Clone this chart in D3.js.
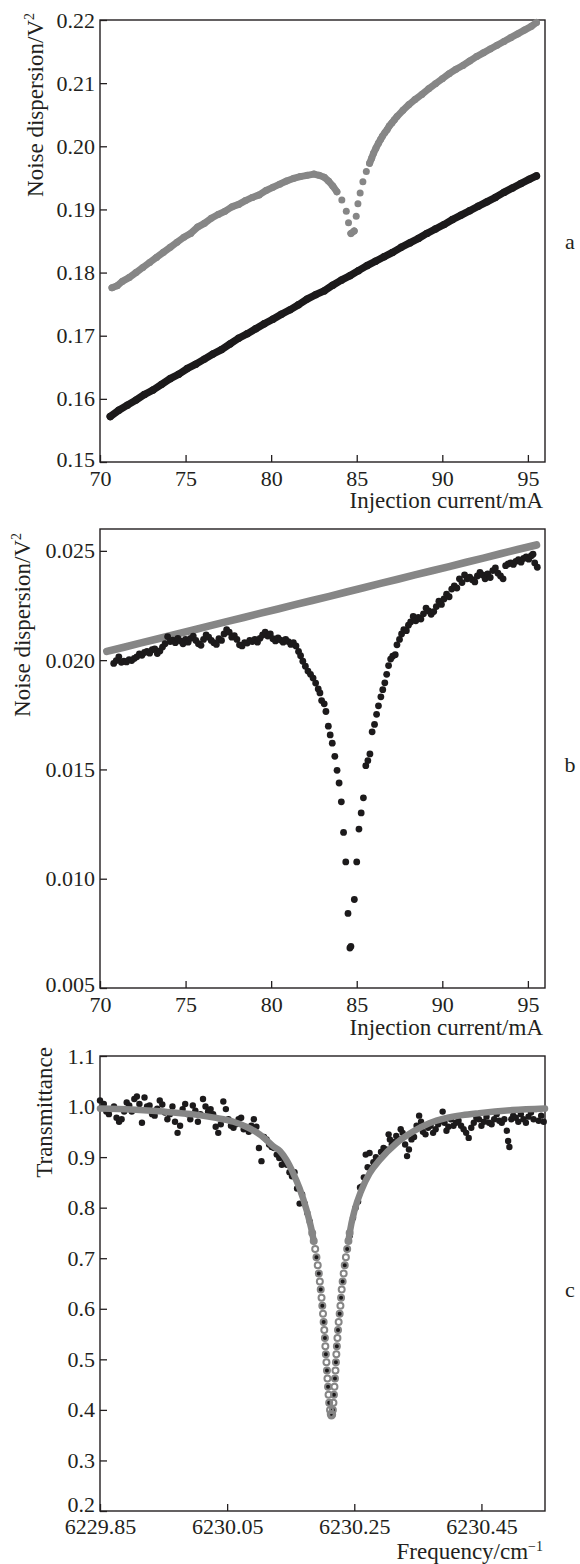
<!DOCTYPE html>
<html><head><meta charset="utf-8">
<script src="https://cdn.jsdelivr.net/npm/d3@7"></script>
<style>
body{margin:0;background:#fff}
svg text{font-family:"Liberation Serif","Times New Roman",serif;fill:#231f20}
</style>
</head><body>
<svg id="chart" width="580" height="1564"></svg>
<script>
// ---------------- DATA ----------------
// Panel a: noise dispersion (V^2) vs injection current (mA)
const aXTicks = [70, 75, 80, 85, 90, 95];
const aYTicks = [0.15, 0.16, 0.17, 0.18, 0.19, 0.20, 0.21, 0.22];
const aGray = [
 [70.7,0.1776],[71.0,0.1779],[71.3,0.1786],[71.7,0.1792],[72.1,0.1800],[72.5,0.1808],[72.9,0.1816],[73.3,0.1824],
 [73.7,0.1832],[74.1,0.1840],[74.5,0.1848],[74.9,0.1856],[75.3,0.1862],[75.7,0.1872],[76.1,0.1878],[76.5,0.1886],
 [76.9,0.1892],[77.3,0.1897],[77.7,0.1904],[78.1,0.1908],[78.5,0.1914],[78.9,0.1919],[79.3,0.1923],[79.7,0.1930],
 [80.1,0.1935],[80.5,0.1940],[80.9,0.1945],[81.3,0.1949],[81.7,0.1952],[82.1,0.1954],[82.5,0.1956],[82.8,0.1954],
 [83.1,0.1951],[83.35,0.1945],[83.6,0.1937],[83.84,0.1928],[84.13,0.1915],[84.39,0.1897],[84.52,0.1879],[84.66,0.1862],
 [84.85,0.1866],[84.97,0.1889],[85.07,0.1909],[85.2,0.1926],[85.36,0.1944],[85.56,0.1960],[85.75,0.1973],[85.87,0.1981],
 [85.98,0.1989],[86.12,0.1997],[86.27,0.2005],[86.4,0.2011],[86.5,0.2016],[86.65,0.2022],[86.77,0.2026],[86.9,0.2032],
 [87.05,0.2037],[87.2,0.2042],[87.35,0.2047],[87.7,0.2057],[88.05,0.2066],[88.4,0.2074],
 [88.8,0.2082],[89.2,0.2091],[89.6,0.2099],[90.0,0.2107],[90.4,0.2115],[90.8,0.2122],[91.2,0.2128],[91.6,0.2135],
 [92.0,0.2142],[92.4,0.2148],[92.8,0.2154],[93.2,0.2160],[93.6,0.2166],[94.0,0.2172],[94.4,0.2178],[94.8,0.2184],
 [95.2,0.2190],[95.5,0.2196]
];
const aBlack = [
 [70.6,0.1572],[71.1,0.1582],[71.6,0.1590],[72.1,0.1598],[72.6,0.1607],[73.1,0.1614],[73.6,0.1623],[74.1,0.1632],
 [74.6,0.1639],[75.1,0.1648],[75.6,0.1655],[76.1,0.1663],[76.6,0.1671],[77.1,0.1678],[77.6,0.1687],[78.1,0.1696],
 [78.6,0.1703],[79.1,0.1711],[79.6,0.1719],[80.1,0.1726],[80.6,0.1734],[81.1,0.1741],[81.6,0.1749],[82.1,0.1758],
 [82.6,0.1765],[83.1,0.1771],[83.6,0.1780],[84.1,0.1788],[84.6,0.1795],[85.1,0.1803],[85.6,0.1811],[86.1,0.1818],
 [86.6,0.1825],[87.1,0.1832],[87.6,0.1840],[88.1,0.1847],[88.6,0.1854],[89.1,0.1862],[89.6,0.1869],[90.1,0.1876],
 [90.6,0.1884],[91.1,0.1891],[91.6,0.1898],[92.1,0.1905],[92.6,0.1912],[93.1,0.1919],[93.6,0.1927],[94.1,0.1934],
 [94.6,0.1941],[95.1,0.1948],[95.5,0.1953]
];

// Panel b
const bXTicks = [70, 75, 80, 85, 90, 95];
const bYTicks = [0.005, 0.010, 0.015, 0.020, 0.025];
const bGray = [
 [70.4,0.02040],[71.4,0.02059],[72.4,0.02079],[73.4,0.02098],[74.4,0.02118],[75.4,0.02137],[76.4,0.02157],
 [77.4,0.02176],[78.4,0.02195],[79.4,0.02215],[80.4,0.02234],[81.4,0.02254],[82.4,0.02273],[83.4,0.02292],
 [84.4,0.02312],[85.4,0.02331],[86.4,0.02351],[87.4,0.02370],[88.4,0.02390],[89.4,0.02409],[90.4,0.02428],
 [91.4,0.02448],[92.4,0.02467],[93.4,0.02487],[94.4,0.02506],[95.5,0.02527]
];
const bBlack = [
 [70.8,0.01985],[70.95,0.01998],[71.1,0.02015],[71.25,0.01990],[71.4,0.01995],[71.55,0.01992],[71.7,0.02002],
 [71.85,0.01998],[72.0,0.02008],[72.15,0.02015],[72.3,0.02028],[72.45,0.02022],[72.6,0.02035],[72.75,0.02040],
 [72.9,0.02032],[73.05,0.02048],[73.2,0.02052],[73.35,0.02030],[73.5,0.02042],[73.65,0.02060],[73.8,0.02075],
 [73.95,0.02108],[74.1,0.02085],[74.25,0.02092],[74.4,0.02080],[74.55,0.02100],[74.7,0.02088],[74.85,0.02075],
 [75.0,0.02095],[75.15,0.02082],[75.3,0.02100],[75.45,0.02110],[75.6,0.02090],[75.75,0.02075],[75.9,0.02068],
 [76.05,0.02095],[76.2,0.02115],[76.35,0.02105],[76.5,0.02090],[76.65,0.02080],[76.8,0.02072],[76.95,0.02098],
 [77.1,0.02090],[77.25,0.02120],[77.4,0.02140],[77.55,0.02128],[77.7,0.02105],[77.85,0.02112],[78.0,0.02095],
 [78.15,0.02070],[78.3,0.02065],[78.45,0.02080],[78.6,0.02078],[78.75,0.02090],[78.9,0.02085],[79.05,0.02095],
 [79.2,0.02082],[79.35,0.02100],[79.5,0.02115],[79.65,0.02128],[79.8,0.02110],[79.95,0.02120],[80.1,0.02098],
 [80.25,0.02088],[80.4,0.02102],[80.55,0.02092],[80.7,0.02082],[80.85,0.02095],[81.0,0.02085],[81.15,0.02072],
 [81.3,0.02080],[81.45,0.02065],[81.6,0.02040],[81.72,0.02020],[81.85,0.01995],[82.0,0.01972],[82.15,0.01950],
 [82.3,0.01935],[82.45,0.01918],[82.6,0.01895],[82.75,0.01868],[82.85,0.01850],[82.95,0.01815],[83.1,0.01800],
 [83.2,0.01765],[83.34,0.01698],[83.45,0.01658],[83.57,0.01620],[83.72,0.01560],[83.85,0.01496],[83.97,0.01438],
 [84.1,0.01352],[84.23,0.01212],[84.36,0.01077],[84.49,0.00841],[84.6,0.00683],[84.66,0.00690],[84.86,0.00905],
 [85.0,0.01077],[85.13,0.01227],[85.26,0.01301],[85.39,0.01370],[85.53,0.01517],[85.65,0.01540],[85.77,0.01571],
 [85.9,0.01672],[86.04,0.01706],[86.16,0.01752],[86.27,0.01791],[86.41,0.01832],[86.52,0.01865],[86.64,0.01896],
 [86.75,0.01935],[86.86,0.01975],[86.98,0.02005],[87.1,0.02018],[87.25,0.02025],[87.35,0.02070],[87.5,0.02095],
 [87.62,0.02120],[87.75,0.02140],[87.9,0.02135],[88.02,0.02160],[88.15,0.02175],[88.3,0.02200],[88.45,0.02180],
 [88.6,0.02195],[88.75,0.02188],[88.9,0.02212],[89.05,0.02238],[89.2,0.02225],[89.35,0.02210],[89.5,0.02222],
 [89.65,0.02245],[89.8,0.02270],[89.95,0.02255],[90.1,0.02280],[90.25,0.02302],[90.4,0.02290],[90.55,0.02325],
 [90.7,0.02340],[90.85,0.02330],[91.0,0.02372],[91.15,0.02355],[91.3,0.02390],[91.45,0.02372],[91.6,0.02380],
 [91.75,0.02368],[91.9,0.02358],[92.05,0.02385],[92.2,0.02402],[92.35,0.02390],[92.5,0.02372],[92.65,0.02395],
 [92.8,0.02378],[92.95,0.02410],[93.1,0.02422],[93.25,0.02398],[93.4,0.02385],[93.55,0.02372],[93.7,0.02432],
 [93.85,0.02440],[94.0,0.02445],[94.15,0.02438],[94.3,0.02452],[94.45,0.02460],[94.6,0.02448],[94.75,0.02465],
 [94.9,0.02472],[95.05,0.02462],[95.2,0.02478],[95.3,0.02485],[95.4,0.02445],[95.55,0.02425]
];

// Panel c: transmittance vs frequency (cm^-1)
const cXTicks = [6229.85, 6230.05, 6230.25, 6230.45];
const cYTicks = [0.2, 0.3, 0.4, 0.5, 0.6, 0.7, 0.8, 0.9, 1.0, 1.1];
const cData = [
 [6229.850,1.012],[6229.853,0.998],[6229.856,1.005],[6229.860,0.990],[6229.864,0.985],[6229.868,0.995],[6229.872,1.000],
 [6229.876,0.978],[6229.880,0.970],[6229.884,0.975],[6229.888,0.990],[6229.892,1.008],[6229.896,1.002],[6229.900,0.990],
 [6229.904,1.015],[6229.908,1.020],[6229.912,1.005],[6229.916,0.968],[6229.920,1.018],[6229.924,1.000],[6229.928,1.002],
 [6229.932,0.985],[6229.936,0.982],[6229.940,0.996],[6229.944,1.012],[6229.948,1.004],[6229.952,0.988],[6229.956,0.975],
 [6229.960,0.985],[6229.964,1.000],[6229.968,0.970],[6229.972,0.948],[6229.976,0.962],[6229.980,0.995],[6229.984,1.005],
 [6229.988,0.985],[6229.992,0.975],[6229.996,1.002],[6230.000,0.992],[6230.004,0.970],[6230.008,0.985],[6230.012,1.015],
 [6230.016,1.000],[6230.020,0.990],[6230.024,0.995],[6230.028,0.985],[6230.032,0.960],[6230.036,0.948],[6230.040,0.965],
 [6230.044,1.010],[6230.048,0.995],[6230.052,0.975],[6230.056,0.962],[6230.060,0.958],[6230.064,0.965],[6230.068,0.975],
 [6230.072,0.978],[6230.076,0.955],[6230.080,0.958],[6230.084,0.950],[6230.088,0.962],[6230.092,0.975],[6230.096,0.960],
 [6230.100,0.918],[6230.104,0.892],[6230.108,0.940],[6230.112,0.935],[6230.116,0.925],[6230.120,0.920],[6230.124,0.918],
 [6230.128,0.905],[6230.132,0.898],[6230.136,0.885],[6230.140,0.895],[6230.144,0.885],[6230.148,0.870],[6230.152,0.862],
 [6230.156,0.870],[6230.160,0.838],[6230.164,0.808],[6230.168,0.826],[6230.172,0.808],[6230.176,0.790],[6230.180,0.772],
 [6230.1862,0.734],[6230.1905,0.702],[6230.1942,0.670],[6230.1972,0.638],[6230.1997,0.606],[6230.2018,0.574],
 [6230.2038,0.542],[6230.2053,0.510],[6230.2070,0.478],[6230.2087,0.446],[6230.2105,0.414],[6230.2130,0.392],
 [6230.2163,0.400],[6230.2180,0.430],[6230.2196,0.462],[6230.2211,0.494],[6230.2226,0.526],[6230.2244,0.558],
 [6230.2270,0.590],[6230.2292,0.622],[6230.2317,0.654],[6230.2350,0.686],[6230.2388,0.718],
 [6230.243,0.745],[6230.248,0.780],[6230.252,0.800],[6230.256,0.812],[6230.259,0.840],[6230.262,0.842],[6230.265,0.860],
 [6230.268,0.905],[6230.271,0.880],[6230.274,0.908],[6230.277,0.878],[6230.280,0.890],[6230.284,0.900],[6230.288,0.895],
 [6230.292,0.910],[6230.296,0.918],[6230.300,0.915],[6230.304,0.945],[6230.306,0.935],[6230.309,0.925],[6230.312,0.930],
 [6230.316,0.942],[6230.320,0.935],[6230.323,0.955],[6230.326,0.948],[6230.330,0.925],[6230.333,0.902],[6230.336,0.915],
 [6230.340,0.935],[6230.344,0.940],[6230.348,0.962],[6230.352,0.982],[6230.355,0.970],[6230.358,0.950],[6230.362,0.945],
 [6230.366,0.958],[6230.370,0.962],[6230.374,0.948],[6230.378,0.955],[6230.382,0.965],[6230.386,0.972],[6230.389,0.990],
 [6230.392,0.968],[6230.395,0.952],[6230.398,0.960],[6230.402,0.975],[6230.406,0.962],[6230.410,0.968],[6230.414,0.972],
 [6230.418,0.962],[6230.422,0.955],[6230.426,0.948],[6230.430,0.938],[6230.434,0.958],[6230.438,0.968],[6230.442,0.978],
 [6230.446,0.975],[6230.450,0.962],[6230.454,0.970],[6230.458,0.980],[6230.462,0.968],[6230.466,0.965],[6230.470,0.975],
 [6230.474,0.985],[6230.478,0.972],[6230.482,0.968],[6230.486,0.975],[6230.490,0.952],[6230.492,0.932],[6230.494,0.920],
 [6230.497,0.975],[6230.500,0.982],[6230.504,0.978],[6230.508,0.970],[6230.512,0.985],[6230.516,0.975],[6230.520,0.968],
 [6230.524,0.980],[6230.528,0.988],[6230.532,0.975],[6230.536,0.995],[6230.540,0.972],[6230.544,0.982],[6230.548,0.970]
];
const cFit = [
 [6229.85,0.996],[6229.90,0.994],[6229.95,0.990],[6230.00,0.984],[6230.03,0.978],[6230.06,0.970],[6230.08,0.960],
 [6230.095,0.950],[6230.11,0.936],[6230.122,0.922],[6230.133,0.912],[6230.1435,0.894],[6230.154,0.868],[6230.164,0.838],
 [6230.175,0.795],
 [6230.1838,0.750],[6230.1862,0.734],[6230.1885,0.718],[6230.1905,0.702],[6230.1925,0.686],[6230.1942,0.670],
 [6230.1958,0.654],[6230.1972,0.638],[6230.1985,0.622],[6230.1997,0.606],[6230.2008,0.590],[6230.2018,0.574],
 [6230.2028,0.558],[6230.2038,0.542],[6230.2045,0.526],[6230.2053,0.510],[6230.2062,0.494],[6230.2070,0.478],
 [6230.2078,0.462],[6230.2087,0.446],[6230.2095,0.430],[6230.2105,0.414],[6230.2118,0.400],[6230.2130,0.392],
 [6230.2140,0.389],[6230.2152,0.391],[6230.2163,0.400],[6230.2172,0.414],[6230.2180,0.430],[6230.2188,0.446],
 [6230.2196,0.462],[6230.2204,0.478],[6230.2211,0.494],[6230.2218,0.510],[6230.2226,0.526],[6230.2235,0.542],
 [6230.2244,0.558],[6230.2254,0.574],[6230.2270,0.590],[6230.2282,0.606],[6230.2292,0.622],[6230.2302,0.638],
 [6230.2317,0.654],[6230.2333,0.670],[6230.2350,0.686],[6230.2368,0.702],[6230.2388,0.718],[6230.2408,0.734],
 [6230.2427,0.750],
 [6230.2505,0.795],[6230.261,0.834],[6230.274,0.868],[6230.2897,0.894],[6230.3158,0.927],[6230.3418,0.950],
 [6230.368,0.967],[6230.394,0.977],[6230.42,0.983],[6230.4463,0.987],[6230.4985,0.993],[6230.55,0.996]
];

// ---------------- DRAWING ----------------
const svg = d3.select("#chart");
const INK = "#231f20", GRAY = "#868686", DARK = "#1c1a1b";
const FS = 22, TFS = 23;
const L = 100, R = 545;

function makePanel(o) {
  const g = svg.append("g");
  const x = d3.scaleLinear().domain(o.xDomain).range([L, R]);
  const y = d3.scaleLinear().domain(o.yDomain).range([o.bottom, o.top]);

  const ax = g.append("g").attr("transform", `translate(0,${o.bottom})`)
    .call(d3.axisBottom(x).tickValues(o.xTicks).tickFormat(o.xFmt)
      .tickSizeInner(-7).tickSizeOuter(0).tickPadding(o.xPad || 8));
  const ay = g.append("g").attr("transform", `translate(${L},0)`)
    .call(d3.axisLeft(y).tickValues(o.yTicks).tickFormat(o.yFmt)
      .tickSizeInner(-7).tickSizeOuter(0).tickPadding(5));
  [ax, ay].forEach(a => {
    a.select(".domain").remove();
    a.selectAll(".tick line").attr("stroke", INK).attr("stroke-width", 1.3);
    a.selectAll(".tick text").attr("font-size", FS).attr("fill", INK)
      .style("font-family", '"Liberation Serif","Times New Roman",serif');
  });
  // lowest y label sits slightly higher, clear of the x labels
  ay.selectAll(".tick text").filter(d => d === o.yTicks[0]).attr("dy", o.firstDy);

  g.append("rect").attr("x", L).attr("y", o.top).attr("width", R - L).attr("height", o.bottom - o.top)
    .attr("fill", "none").attr("stroke", INK).attr("stroke-width", 1.4);

  // x title
  const xt = g.append("text").attr("x", 543).attr("y", o.xTitleY).attr("text-anchor", "end").attr("font-size", TFS);
  xt.append("tspan").text(o.xTitle);
  if (o.xSup) xt.append("tspan").attr("font-size", 14).attr("dy", -8).text(o.xSup);

  // y title
  const yt = g.append("text").attr("transform", `translate(${o.yTitleX},${o.yTitleEnd}) rotate(-90)`)
    .attr("text-anchor", "end").attr("font-size", TFS);
  yt.append("tspan").text(o.yTitle);
  if (o.ySup) yt.append("tspan").attr("font-size", 14).attr("dy", -9).text(o.ySup);

  // panel letter
  g.append("text").attr("x", 570).attr("y", o.letterY).attr("text-anchor", "middle").attr("font-size", FS).text(o.letter);

  return {g, x, y};
}

function drawSeries(p, pts, opt) {
  const P = pts.map(d => [p.x(d[0]), p.y(d[1])]);
  if (opt.gap > 0) {
    const runs = []; let cur = [P[0]];
    for (let i = 1; i < P.length; i++) {
      const dx = P[i][0] - P[i-1][0], dy = P[i][1] - P[i-1][1];
      const ok = Math.hypot(dx, dy) <= opt.gap && Math.abs(dy) <= (opt.maxDy || 1e9);
      if (ok) cur.push(P[i]); else { runs.push(cur); cur = [P[i]]; }
    }
    runs.push(cur);
    runs.filter(r => r.length > 1).forEach(r => {
      p.g.append("path").attr("d", d3.line()(r)).attr("fill", "none").attr("stroke", opt.color)
        .attr("stroke-width", opt.lw || 2 * opt.r).attr("stroke-linecap", "round").attr("stroke-linejoin", "round");
    });
  }
  if (!opt.noDots) {
    p.g.append("g").selectAll("circle").data(pts).join("circle")
      .attr("cx", d => p.x(d[0])).attr("cy", d => p.y(d[1])).attr("r", opt.r).attr("fill", opt.color);
  }
}

// Panel a
const pa = makePanel({
  top: 20, bottom: 462, xDomain: [70, 96], yDomain: [0.15, 0.22],
  xTicks: aXTicks, yTicks: aYTicks, xFmt: d3.format("d"), yFmt: d3.format(".2f"), firstDy: "0.22em",
  xTitle: "Injection current/mA", xTitleY: 508,
  yTitle: "Noise dispersion/V", ySup: "2", yTitleX: 43, yTitleEnd: 13,
  letter: "a", letterY: 249
});
drawSeries(pa, aGray, {r: 3.5, color: GRAY, gap: 12, maxDy: 7.5});
drawSeries(pa, aBlack, {r: 3.7, color: DARK, gap: 20});

// Panel b
const pb = makePanel({
  top: 529, bottom: 988, xDomain: [70, 96], yDomain: [0.005, 0.026],
  xTicks: bXTicks, yTicks: bYTicks, xFmt: d3.format("d"), yFmt: d3.format(".3f"), firstDy: "0.18em",
  xTitle: "Injection current/mA", xTitleY: 1035,
  yTitle: "Noise dispersion/V", ySup: "2", yTitleX: 30, yTitleEnd: 533,
  letter: "b", letterY: 772
});
drawSeries(pb, bGray, {r: 3.8, color: GRAY, gap: 40, noDots: true});
drawSeries(pb, bBlack, {r: 3.4, color: DARK, gap: 0});

// Panel c
const pc = makePanel({
  top: 1056, bottom: 1511, xDomain: [6229.85, 6230.55], yDomain: [0.2, 1.1],
  xTicks: cXTicks, yTicks: cYTicks, xFmt: d3.format(".2f"), yFmt: d3.format(".1f"), firstDy: "0.0em",
  xPad: 7,
  xTitle: "Frequency/cm", xSup: "\u22121", xTitleY: 1559,
  yTitle: "Transmittance", yTitleX: 52, yTitleEnd: 1047,
  letter: "c", letterY: 1297
});
drawSeries(pc, cData, {r: 3.2, color: DARK, gap: 0});
pc.g.append("path")
  .attr("d", d3.line().defined(d => d[1] >= 0.73).x(d => pc.x(d[0])).y(d => pc.y(d[1])).curve(d3.curveMonotoneX)(cFit))
  .attr("fill", "none").attr("stroke", GRAY).attr("stroke-width", 6.5).attr("stroke-linecap", "round");
pc.g.append("g").selectAll("circle").data(cFit.filter(d => d[1] < 0.76)).join("circle")
  .attr("cx", d => pc.x(d[0])).attr("cy", d => pc.y(d[1])).attr("r", 3)
  .attr("fill", "none").attr("stroke", GRAY).attr("stroke-width", 2);
</script>
</body></html>
